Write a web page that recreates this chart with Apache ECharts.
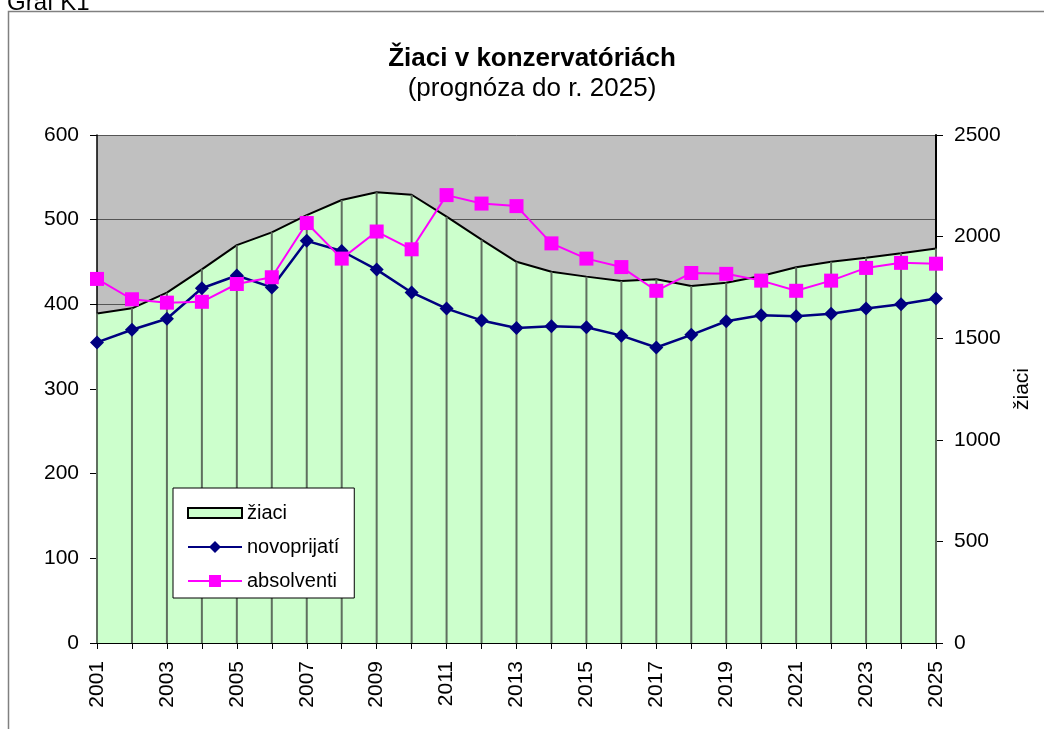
<!DOCTYPE html>
<html>
<head>
<meta charset="utf-8">
<title>Žiaci v konzervatóriách</title>
<script src="https://cdn.jsdelivr.net/npm/echarts@6/dist/echarts.min.js"></script>
<style>
    html, body { margin: 0; padding: 0; background: #fff; }
    #main { width: 1044px; height: 729px; }
</style>
</head>
<body>
<div id="main"></div>
<script>
var years = ['2001', '2002', '2003', '2004', '2005', '2006', '2007', '2008', '2009', '2010',
    '2011', '2012', '2013', '2014', '2015', '2016', '2017', '2018', '2019', '2020',
    '2021', '2022', '2023', '2024', '2025'];

// pravá os
var ziaci = [1622, 1647, 1724, 1839, 1958, 2021, 2106, 2180, 2218, 2206,
    2098, 1985, 1876, 1827, 1803, 1781, 1790, 1757, 1773, 1806,
    1849, 1876, 1896, 1918, 1942];

// ľavá os
var novoprijati = [355, 370, 383, 419, 434, 420, 475, 463, 441, 414,
    395, 381, 372, 374, 373, 363, 349, 364, 380, 387,
    386, 389, 395, 400, 407];

var absolventi = [430, 406, 402, 403, 424, 432, 496, 454, 486, 465,
    529, 519, 516, 472, 454, 444, 416, 437, 436, 428,
    416, 428, 443, 449, 448];

var font = 'Liberation Sans, Arial, sans-serif';

var chartDom = document.getElementById('main');
var myChart = echarts.init(chartDom);
var option;

option = {
    animation: false,
    textStyle: { fontFamily: font, color: '#000' },
    title: {
        text: 'Žiaci v konzervatóriách',
        subtext: '(prognóza do r. 2025)',
        left: 532,
        top: 46,
        textAlign: 'center',
        itemGap: 4,
        padding: 0,
        textStyle: { fontFamily: font, fontSize: 26, fontWeight: 'bold', color: '#000' },
        subtextStyle: { fontFamily: font, fontSize: 26, color: '#000' }
    },
    graphic: [
        {
            type: 'rect',
            shape: { x: 8.5, y: 11.5, width: 1200, height: 900 },
            style: { fill: null, stroke: '#808080', lineWidth: 1.5 },
            silent: true
        },
        {
            type: 'text',
            x: 7,
            y: 3,
            style: { text: 'Graf K1', font: '24px ' + font, fill: '#000', verticalAlign: 'middle' },
            silent: true
        }
    ],
    legend: {
        orient: 'vertical',
        left: 173,
        top: 488,
        padding: [15, 15, 7, 14],
        itemGap: 14,
        itemWidth: 54,
        itemHeight: 15,
        backgroundColor: '#fff',
        borderColor: '#000',
        borderWidth: 1,
        textStyle: { fontFamily: font, fontSize: 20, color: '#000' },
        data: [
            {
                name: 'žiaci',
                icon: 'path://M0,0L54,0L54,10L0,10Z',
                itemStyle: { color: '#ccffcc', borderColor: '#000', borderWidth: 2 }
            },
            { name: 'novoprijatí' },
            { name: 'absolventi' }
        ]
    },
    grid: {
        left: 97,
        right: 108,
        top: 135,
        bottom: 86,
        show: true,
        backgroundColor: '#c0c0c0',
        borderWidth: 0
    },
    xAxis: {
        type: 'category',
        data: years,
        boundaryGap: false,
        axisLine: { lineStyle: { color: '#000', width: 2 } },
        axisTick: { show: true, length: 6, interval: 0, lineStyle: { color: '#000' } },
        axisLabel: { interval: 1, rotate: 90, margin: 18, fontSize: 21, color: '#000', fontFamily: font },
        splitLine: { show: false }
    },
    yAxis: [
        {
            type: 'value',
            min: 0,
            max: 600,
            interval: 100,
            axisLine: { show: true, lineStyle: { color: '#000', width: 1.5 } },
            axisTick: { show: true, length: 7, lineStyle: { color: '#000' } },
            axisLabel: { margin: 18, fontSize: 21, color: '#000', fontFamily: font },
            splitLine: { show: true, lineStyle: { color: '#555', width: 1 } }
        },
        {
            type: 'value',
            min: 0,
            max: 2500,
            interval: 500,
            position: 'right',
            name: 'žiaci',
            nameLocation: 'middle',
            nameGap: 66,
            nameTextStyle: { fontSize: 21, color: '#000', fontFamily: font },
            axisLine: { show: true, lineStyle: { color: '#000', width: 2 } },
            axisTick: { show: true, length: 7, lineStyle: { color: '#000' } },
            axisLabel: {
                margin: 18,
                fontSize: 21,
                color: '#000',
                fontFamily: font,
                formatter: function (v) { return String(v); }
            },
            splitLine: { show: false }
        }
    ],
    series: [
        {
            name: 'žiaci',
            type: 'line',
            yAxisIndex: 1,
            data: ziaci,
            symbol: 'none',
            lineStyle: { color: '#000', width: 2 },
            itemStyle: { color: '#ccffcc' },
            areaStyle: { color: '#ccffcc', opacity: 1 },
            z: 2
        },
        {
            // zvislé čiary pod krivkou
            name: 'ziaci-drop',
            type: 'bar',
            yAxisIndex: 1,
            data: ziaci,
            barWidth: 2,
            itemStyle: { color: '#5f6f5f' },
            silent: true,
            z: 3
        },
        {
            name: 'novoprijatí',
            type: 'line',
            data: novoprijati,
            symbol: 'diamond',
            symbolSize: 14,
            lineStyle: { color: '#000080', width: 2.5 },
            itemStyle: { color: '#000080' },
            z: 4
        },
        {
            name: 'absolventi',
            type: 'line',
            data: absolventi,
            symbol: 'rect',
            symbolSize: 14,
            lineStyle: { color: '#ff00ff', width: 2 },
            itemStyle: { color: '#ff00ff' },
            z: 5
        }
    ]
};

option && myChart.setOption(option);
</script>
</body>
</html>
